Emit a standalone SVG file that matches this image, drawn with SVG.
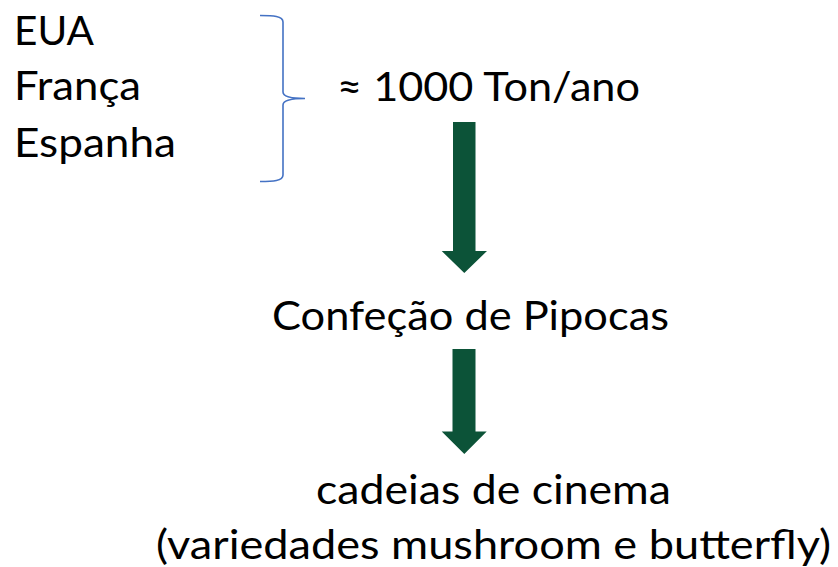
<svg xmlns="http://www.w3.org/2000/svg" width="838" height="567" viewBox="0 0 838 567">
  <style>
    .t { font-family: Lato, "Open Sans", "Liberation Sans", sans-serif; font-size: 41px; fill: #000000; }
    .arrow { fill: #0C5338; }
    .brace { fill: none; stroke: #4472C4; stroke-width: 1.6; }
  </style>
  <rect width="838" height="567" fill="#ffffff"/>
  <g id="countries">
    <text class="t" x="14" y="45" textLength="80" lengthAdjust="spacingAndGlyphs">EUA</text>
    <text class="t" x="14" y="100" textLength="127" lengthAdjust="spacingAndGlyphs">França</text>
    <text class="t" x="14" y="157" textLength="162" lengthAdjust="spacingAndGlyphs">Espanha</text>
  </g>
  <g id="brace">
    <path class="brace" d="M260,15.5 C273,15.5 283,16 283,22 L283,92 C283,96.5 290,98.5 305,98.5 C290,98.5 283,100.5 283,105 L283,175 C283,181 273,181.5 260,181.5"/>
  </g>
  <g id="production">
    <text class="t" x="337" y="101" textLength="303" lengthAdjust="spacingAndGlyphs">≈ 1000 Ton/ano</text>
  </g>
  <g id="confecao">
    <text class="t" x="272" y="330" textLength="397" lengthAdjust="spacingAndGlyphs">Confeção de Pipocas</text>
  </g>
  <g id="cinema">
    <text class="t" x="316" y="504" textLength="355" lengthAdjust="spacingAndGlyphs">cadeias de cinema</text>
    <text class="t" x="156" y="559" textLength="675" lengthAdjust="spacingAndGlyphs">(variedades mushroom e butterfly)</text>
  </g>
  <g id="connectors">
    <path class="arrow" d="M453,122 L475.5,122 L475.5,251 L487,251 L464.3,273 L441.7,251 L453,251 Z"/>
    <path class="arrow" d="M452.5,349 L475.5,349 L475.5,431.5 L486.7,431.5 L464.3,454 L441.7,431.5 L452.5,431.5 Z"/>
  </g>
</svg>
